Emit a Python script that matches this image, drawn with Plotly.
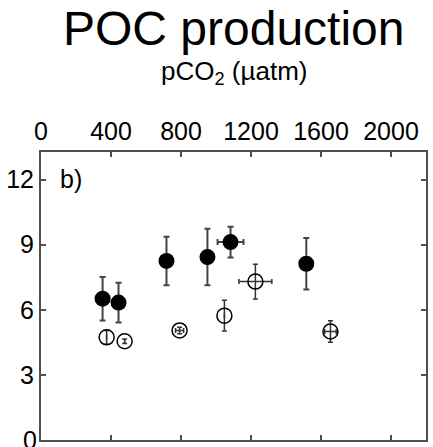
import plotly.graph_objects as go

# Filled circles
filled_x = [352, 443, 717, 951, 1083, 1516]
filled_y = [6.51, 6.33, 8.25, 8.43, 9.12, 8.12]
filled_yerr = [1.0, 0.92, 1.12, 1.3, 0.71, 1.19]
filled_xerr = [None, None, None, None, 74, 35]

# Open circles
open_x = [375, 478, 792, 1048, 1225, 1654]
open_y = [4.73, 4.55, 5.05, 5.73, 7.30, 5.00]
open_yerr = [0.32, 0.1, 0.15, 0.71, 0.8, 0.5]
open_xerr = [None, None, 23, None, 94, 33]

x_ticks = [0, 400, 800, 1200, 1600, 2000]
y_ticks = [0, 3, 6, 9, 12]
y_ticktext = ["", "3", "6", "9", "12"]

FONT = "Liberation Sans, Arial, sans-serif"
AX = "#505050"

fig = go.Figure()
fig.add_trace(go.Scatter(
    x=open_x, y=open_y, mode="markers",
    marker=dict(symbol="circle-open", size=15, color="black", line=dict(width=1.5, color="black")),
    error_y=dict(type="data", array=open_yerr, visible=True, color="#333", thickness=1.5, width=2.5),
    error_x=dict(type="data", array=open_xerr, visible=True, color="#333", thickness=1.5, width=2.5),
    showlegend=False,
))
fig.add_trace(go.Scatter(
    x=filled_x, y=filled_y, mode="markers",
    marker=dict(symbol="circle", size=16, color="black"),
    error_y=dict(type="data", array=filled_yerr, visible=True, color="#444", thickness=2, width=3),
    error_x=dict(type="data", array=filled_xerr, visible=True, color="#444", thickness=2, width=3),
    showlegend=False,
))

fig.update_layout(
    width=433, height=447,
    margin=dict(l=41, r=6, t=152, b=5),
    plot_bgcolor="white", paper_bgcolor="white",
    font=dict(family=FONT, size=25, color="black"),
    xaxis=dict(
        range=[0, 2200], side="top", tickvals=x_ticks, ticks="inside", ticklen=5,
        tickwidth=1.5, tickcolor=AX, showline=True, linecolor=AX, linewidth=2,
        mirror="ticks", showgrid=False, zeroline=False,
        tickfont=dict(size=25, family=FONT),
    ),
    yaxis=dict(
        range=[0, 13.27], tickvals=y_ticks, ticktext=y_ticktext, ticks="inside", ticklen=5,
        tickwidth=1.5, tickcolor=AX, showline=True, linecolor=AX, linewidth=2,
        mirror="ticks", showgrid=False, zeroline=False,
        tickfont=dict(size=25, family=FONT),
    ),
    annotations=[
        dict(text="POC production", xref="paper", yref="paper", x=0.5, y=1.43,
             xanchor="center", yanchor="middle", showarrow=False,
             font=dict(size=48, family=FONT)),
        dict(text="pCO<sub>2</sub> (µatm)", xref="paper", yref="paper", x=0.5, y=1.275,
             xanchor="center", yanchor="middle", showarrow=False,
             font=dict(size=26, family=FONT)),
        dict(text="b)", xref="paper", yref="paper", x=0.045, y=0.905,
             xanchor="left", yanchor="middle", showarrow=False,
             font=dict(size=25, family=FONT)),
        dict(text="0", xref="paper", yref="y", x=-0.005, y=0,
             xanchor="right", yanchor="middle", showarrow=False,
             font=dict(size=25, family=FONT)),
    ],
)

fig.write_html("out.html")
